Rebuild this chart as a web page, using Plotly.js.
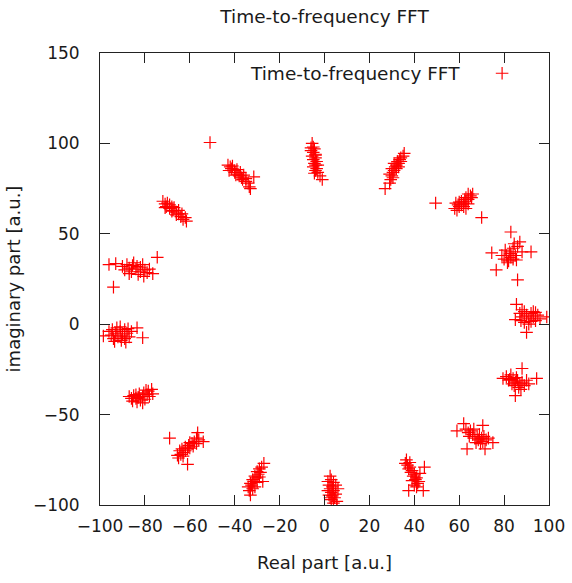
<!DOCTYPE html>
<html>
<head>
<meta charset="utf-8">
<script src="https://cdn.plot.ly/plotly-3.0.1.min.js"></script>
<style>
html,body{margin:0;padding:0;background:#fff;}
#chart{width:572px;height:583px;}
</style>
</head>
<body>
<div id="chart"></div>
<script>
// Data: [real, imaginary] pairs, grouped by cluster
var cluster01 = [[-5.5,100],[-5,98],[-6,96],[-4.5,97],[-5,95],[-4,94],[-5.5,93],[-4,92],[-5,91],[-3.5,90],[-4.5,89],[-4,88],[-5,87],[-3.5,86],[-4,85],[-3,84],[-4.5,83.5],[-2,82],[-1,80],[-6,97.5],[-3,88],[-4,93.5]];
var cluster02 = [[27,75],[29,78],[29.5,80],[30,82],[29,83],[30.5,84],[31,85],[30,86],[31.5,87],[32,88],[31,89],[32.5,90],[33,89],[33.5,91],[34,92],[35,93],[35.5,94.5],[32,86],[30.5,81],[33,87],[34,90]];
var cluster03 = [[49.5,67],[58,64],[59,63],[60,65],[59.5,66],[61,66],[62,67],[61,68],[63,68],[62.5,69],[64,69],[63,70],[65,71],[64,72],[66,72],[65.5,70],[60,67.5],[62,65],[64,66.5],[70,59],[58.5,67],[63,64]];
var cluster04 = [[83,51],[74.5,39.5],[76.5,30],[86,24.5],[92,40],[87,45.5],[80,36],[81,38],[82,35],[83,37],[84,36],[82.5,40],[85,38],[84,42],[86,43],[80.5,41],[81.5,34],[85.5,35.5],[88,40],[79,38],[83,39],[84.5,44.5]];
var cluster05 = [[85.5,11],[85,2.5],[90,-4.5],[99,4],[87,6],[88,4],[89,7],[90,5],[91,3],[92,6],[93,4],[94,2],[95,5],[89,1],[91,0],[93,7],[96,3],[88,8],[92,1.5],[94,6.5],[87.5,2]];
var cluster06 = [[88,-24.5],[94.5,-30],[85,-39.5],[79.5,-30],[81,-29],[82,-31],[83,-28],[84,-30],[85,-32],[83.5,-33],[86,-31],[87,-33],[88,-32],[86.5,-35],[84.5,-34],[82.5,-30.5],[89,-34],[90,-31],[87.5,-36],[85.5,-29.5],[91,-33]];
var cluster07 = [[59,-59],[62,-55],[70.5,-56],[75,-65.5],[63.5,-69],[71.5,-69],[63,-58],[64,-60],[65,-59],[64.5,-62],[66,-61],[67,-63],[68,-62],[68.5,-64],[69,-61],[70,-63],[70.5,-65],[71,-62],[72,-64],[69.5,-66],[66.5,-58],[67.5,-65.5],[73,-63]];
var cluster08 = [[36.5,-75],[36,-77],[37,-78],[37.5,-80],[38,-79],[38.5,-82],[39,-81],[39.5,-84],[40,-83],[40.5,-86],[41,-85],[41.5,-88],[40,-89],[39,-86.5],[38,-76.5],[44.5,-79],[42.5,-82.5],[37.5,-92],[44,-92],[42,-87],[41,-90]];
var cluster09 = [[2.5,-84],[3,-86],[1.5,-87],[4,-87.5],[2,-89],[3.5,-90],[5,-89],[2.5,-91],[4,-92],[3,-93],[5,-94],[2,-94.5],[4.5,-96],[3,-97],[5.5,-98],[4,-99],[5.5,-100.5],[1.5,-92],[3.5,-95],[6,-91],[2.5,-96]];
var cluster10 = [[-27,-77],[-28,-79],[-29,-80],[-28.5,-82],[-29.5,-83],[-30,-81.5],[-30.5,-85],[-31,-84],[-31.5,-87],[-32,-86],[-32.5,-89],[-33,-88],[-32,-91],[-33.5,-92],[-33,-94.5],[-27.5,-87],[-30,-87.5],[-31,-90],[-29,-84.5],[-34,-90]];
var cluster11 = [[-69,-63],[-56.5,-60],[-54,-65],[-61,-77.5],[-65,-74],[-64,-72],[-64.5,-70],[-63,-71],[-63.5,-69],[-62,-70],[-62,-68],[-61,-69],[-60.5,-67],[-60,-68.5],[-59,-66],[-58.5,-67.5],[-58,-65],[-57,-66],[-56,-64],[-57,-63],[-65.5,-72.5],[-60,-65.5],[-63,-73]];
var cluster12 = [[-87,-40],[-86,-41],[-85,-39.5],[-84,-41],[-84,-39],[-83,-40.5],[-82.5,-38.5],[-82,-42],[-81,-40],[-80.5,-38],[-80,-41.5],[-79,-39],[-78.5,-37],[-78,-40],[-77,-36],[-76.5,-38.5],[-83.5,-43],[-81,-43.5],[-85.5,-42.5],[-79.5,-36.5]];
var cluster13 = [[-98.5,-6.5],[-83.5,-2],[-81,-7.5],[-96,-4],[-95,-6],[-94.5,-3],[-94,-8],[-93,-5],[-92.5,-2],[-92,-7],[-91,-4],[-90.5,-9],[-90,-6],[-89,-3],[-89,-8],[-88,-5],[-87.5,-2.5],[-87,-7],[-86,-4],[-93.5,-9.5],[-91,-1.5],[-88.5,-10]];
var cluster14 = [[-96,33],[-93,33.5],[-74.5,37],[-94,20.5],[-76.5,28],[-90,32],[-89,30],[-88,33],[-87,31],[-86,29],[-85.5,32.5],[-85,34],[-84,30.5],[-83.5,32],[-82,29],[-82,31.5],[-81,33],[-80,30],[-79,28.5],[-78,30.5],[-87,28],[-83,27.5],[-80.5,26.5]];
var cluster15 = [[-72,68],[-71,66.5],[-70.5,65],[-70,67],[-69,66],[-69,64],[-68,65],[-67.5,63],[-67,64.5],[-66,62],[-66,60.5],[-65,63],[-65,61],[-64,59.5],[-63.5,61],[-63,58],[-62,59],[-61.5,57],[-71,64.5],[-68,62.5]];
var cluster16 = [[-51,100.5],[-43,88],[-42,87],[-41.5,86],[-41,87.5],[-40,85],[-40,84],[-39,85.5],[-38.5,83],[-38,82],[-37.5,84],[-37,81],[-36.5,80],[-36,82.5],[-35,79],[-35,80.5],[-34,78],[-33.5,76],[-33,75],[-31.5,81.5],[-39.5,82.5],[-42.5,85]];

var seriesName = "Time-to-frequency FFT";
var chartTitle = "Time-to-frequency FFT";
var xLabel = "Real part [a.u.]";
var yLabel = "imaginary part [a.u.]";

var allPoints = [].concat(cluster01, cluster02, cluster03, cluster04, cluster05, cluster06, cluster07, cluster08,
  cluster09, cluster10, cluster11, cluster12, cluster13, cluster14, cluster15, cluster16);
var realPart = allPoints.map(function(p){ return p[0]; });
var imagPart = allPoints.map(function(p){ return p[1]; });

var FONT = "DejaVu Sans, sans-serif";
var TXT = "#1a1a1a";
var trace = {
  x: realPart, y: imagPart,
  type: "scatter", mode: "markers",
  name: " ",
  marker: {symbol: "cross-thin-open", size: 9, color: "#ff0000", line: {color: "#ff0000", width: 1.2}},
  showlegend: true,
  hoverinfo: "x+y"
};

var layout = {
  width: 572, height: 583,
  margin: {l: 100, r: 23, t: 53, b: 78},
  paper_bgcolor: "#ffffff", plot_bgcolor: "#ffffff",
  font: {family: FONT, size: 18, color: TXT},
  title: {text: chartTitle, font: {family: FONT, size: 18.5, color: TXT},
          x: 0.5, xanchor: "center", xref: "paper", y: 0.971, yanchor: "middle", yref: "container"},
  showlegend: true,
  legend: {x: 0.851, y: 0.955, xanchor: "left", yanchor: "middle", bgcolor: "rgba(0,0,0,0)",
           font: {family: FONT, size: 16}, itemwidth: 30, tracegroupgap: 0},
  xaxis: {
    range: [-100, 100], dtick: 20, tick0: -100, ticks: "inside", ticklen: 10, tickwidth: 1, tickcolor: "#222",
    showline: true, linecolor: "#222", linewidth: 1, mirror: "ticks", showgrid: false, zeroline: false,
    tickfont: {family: FONT, size: 17, color: TXT}, ticklabelstandoff: 6,
    title: {text: xLabel, font: {family: FONT, size: 18, color: TXT}, standoff: 20}
  },
  yaxis: {
    range: [-100, 150], dtick: 50, tick0: -100, ticks: "inside", ticklen: 10, tickwidth: 1, tickcolor: "#222",
    showline: true, linecolor: "#222", linewidth: 1, mirror: "ticks", showgrid: false, zeroline: false,
    tickfont: {family: FONT, size: 17, color: TXT}, ticklabelstandoff: 16,
    title: {text: yLabel, font: {family: FONT, size: 18, color: TXT}, standoff: 7}
  },
  annotations: [{
    text: seriesName, xref: "paper", yref: "paper", x: 0.806, y: 0.955, xanchor: "right", yanchor: "middle",
    showarrow: false, font: {family: FONT, size: 18.5, color: TXT}
  }]
};

Plotly.newPlot("chart", [trace], layout, {displayModeBar: false, staticPlot: true});
</script>
</body>
</html>
